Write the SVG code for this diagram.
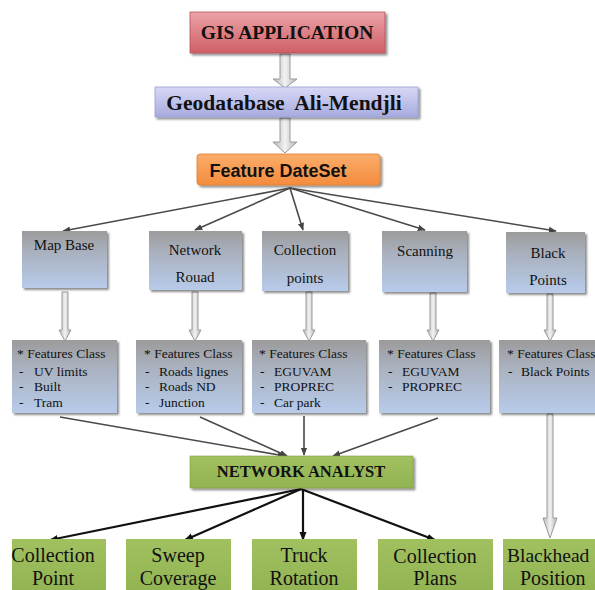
<svg xmlns="http://www.w3.org/2000/svg" width="595" height="590" viewBox="0 0 595 590">
<defs>
<linearGradient id="gRed" x1="0" y1="0" x2="0" y2="1"><stop offset="0" stop-color="#eaa3a7"/><stop offset="1" stop-color="#cf5f67"/></linearGradient>
<linearGradient id="gLav" x1="0" y1="0" x2="0" y2="1"><stop offset="0" stop-color="#d8d8f6"/><stop offset="1" stop-color="#a6abdf"/></linearGradient>
<linearGradient id="gOr" x1="0" y1="0" x2="0" y2="1"><stop offset="0" stop-color="#fbad6c"/><stop offset="1" stop-color="#f48c3c"/></linearGradient>
<linearGradient id="gGB" x1="0" y1="0" x2="0" y2="1"><stop offset="0" stop-color="#9b9b9b"/><stop offset="0.35" stop-color="#a9b0bd"/><stop offset="1" stop-color="#b7cbea"/></linearGradient>
<linearGradient id="gGr" x1="0" y1="0" x2="0" y2="1"><stop offset="0" stop-color="#a1c161"/><stop offset="1" stop-color="#92b352"/></linearGradient>
<linearGradient id="gArr" x1="0" y1="0" x2="1" y2="0"><stop offset="0" stop-color="#b5b5b5"/><stop offset="0.5" stop-color="#f2f2f2"/><stop offset="1" stop-color="#b5b5b5"/></linearGradient>
<filter id="sh" x="-10%" y="-10%" width="125%" height="130%"><feDropShadow dx="2" dy="2" stdDeviation="1.2" flood-color="#000" flood-opacity="0.45"/></filter>
<marker id="ah" viewBox="0 0 10 10" refX="9" refY="5" markerWidth="5" markerHeight="5" orient="auto"><path d="M0,1 L10,5 L0,9 Z" fill="#444"/></marker>
<marker id="ahb" viewBox="0 0 10 10" refX="9" refY="5" markerWidth="4" markerHeight="4" orient="auto"><path d="M0,1 L10,5 L0,9 Z" fill="#111"/></marker>
</defs>
<style>
.serif{font-family:"Liberation Serif","Times New Roman",serif;fill:#111}
.b{font-weight:bold}
.t15{font-size:15px}
.t13{font-size:13.5px}
.t20{font-size:20px}
.ctr{text-anchor:middle}
.blk{fill:url(#gArr);stroke:#9a9a9a;stroke-width:1}
.ln{stroke:#4a4a4a;stroke-width:1.6;fill:none;marker-end:url(#ah)}
.lnb{stroke:#111;stroke-width:2.2;fill:none;marker-end:url(#ahb)}
.box{filter:url(#sh)}
</style>

<g id="connectors">
  <path class="blk" d="M280,54 H290 V79 H297 L285,88 L273,79 H280 Z"/>
  <path class="blk" d="M280,118 H290 V142 H297 L285,153 L273,142 H280 Z"/>
  <line class="ln" x1="290" y1="188" x2="63" y2="231"/>
  <line class="ln" x1="290" y1="188" x2="195" y2="230"/>
  <line class="ln" x1="290" y1="188" x2="303" y2="230"/>
  <line class="ln" x1="290" y1="188" x2="425" y2="230"/>
  <line class="ln" x1="290" y1="188" x2="556" y2="231"/>
  <path class="blk" d="M62,292 H68 V330 H71 L65,341 L59,330 H62 Z"/>
  <path class="blk" d="M192,292 H198 V330 H201 L195,341 L189,330 H192 Z"/>
  <path class="blk" d="M306,292 H312 V330 H315 L309,341 L303,330 H306 Z"/>
  <path class="blk" d="M430,293 H436 V330 H439 L433,341 L427,330 H430 Z"/>
  <path class="blk" d="M547,294 H553 V330 H556 L550,341 L544,330 H547 Z"/>
  <path class="blk" d="M547,414 H553 V518 H557 L550,538 L543,518 H547 Z"/>
  <line class="ln" x1="60" y1="417" x2="285" y2="456"/>
  <line class="ln" x1="200" y1="417" x2="287" y2="456"/>
  <line class="ln" x1="304" y1="416" x2="304" y2="455"/>
  <line class="ln" x1="438" y1="418" x2="333" y2="456"/>
  <line class="lnb" x1="301" y1="489" x2="50" y2="540"/>
  <line class="lnb" x1="301" y1="489" x2="185" y2="540"/>
  <line class="lnb" x1="303" y1="489" x2="303" y2="540"/>
  <line class="lnb" x1="301" y1="489" x2="435" y2="540"/>
</g>

<g id="gis-application">
  <rect class="box" x="190" y="12" width="195" height="41" fill="url(#gRed)" stroke="#b85058" stroke-width="0.8"/>
  <text class="serif b ctr" x="287" y="39" font-size="19.5">GIS APPLICATION</text>
</g>
<g id="geodatabase">
  <rect class="box" x="155" y="87" width="263" height="30" fill="url(#gLav)" stroke="#9a9fd4" stroke-width="0.8"/>
  <text class="serif b ctr" x="284" y="110" font-size="21.5" xml:space="preserve">Geodatabase  Ali-Mendjli</text>
</g>
<g id="feature-dataset">
  <rect class="box" x="197" y="154" width="183" height="31" rx="3" fill="url(#gOr)" stroke="#e07f30" stroke-width="0.8"/>
  <text class="ctr b" x="278" y="177" font-size="18" font-family="Liberation Sans, Arial, sans-serif" fill="#111">Feature DateSet</text>
</g>

<g id="map-base">
  <rect class="box" x="22" y="231" width="85" height="57" fill="url(#gGB)"/>
  <text class="serif t15 ctr" x="64" y="250">Map Base</text>
</g>
<g id="network-rouad">
  <rect class="box" x="149" y="231" width="93" height="59" fill="url(#gGB)"/>
  <text class="serif t15 ctr" x="195" y="255">Network</text>
  <text class="serif t15 ctr" x="195" y="282">Rouad</text>
</g>
<g id="collection-points">
  <rect class="box" x="262" y="231" width="86" height="60" fill="url(#gGB)"/>
  <text class="serif t15 ctr" x="305" y="255">Collection</text>
  <text class="serif t15 ctr" x="305" y="283">points</text>
</g>
<g id="scanning">
  <rect class="box" x="382" y="231" width="85" height="61" fill="url(#gGB)"/>
  <text class="serif t15 ctr" x="425" y="256">Scanning</text>
</g>
<g id="black-points">
  <rect class="box" x="506" y="232" width="79" height="61" fill="url(#gGB)"/>
  <text class="serif t15 ctr" x="548" y="258">Black</text>
  <text class="serif t15 ctr" x="548" y="285">Points</text>
</g>

<g id="fc-map-base">
  <rect class="box" x="12" y="340" width="105" height="73" fill="url(#gGB)"/>
  <text class="serif t13" x="17" y="358">* Features Class</text>
  <text class="serif t13" x="19" y="376">-</text><text class="serif t13" x="34" y="376">UV limits</text>
  <text class="serif t13" x="19" y="391">-</text><text class="serif t13" x="34" y="391">Built</text>
  <text class="serif t13" x="19" y="407">-</text><text class="serif t13" x="34" y="407">Tram</text>
</g>
<g id="fc-network">
  <rect class="box" x="136" y="340" width="106" height="73" fill="url(#gGB)"/>
  <text class="serif t13" x="144" y="358">* Features Class</text>
  <text class="serif t13" x="145" y="376">-</text><text class="serif t13" x="159" y="376">Roads lignes</text>
  <text class="serif t13" x="145" y="391">-</text><text class="serif t13" x="159" y="391">Roads ND</text>
  <text class="serif t13" x="145" y="407">-</text><text class="serif t13" x="159" y="407">Junction</text>
</g>
<g id="fc-collection">
  <rect class="box" x="252" y="340" width="114" height="73" fill="url(#gGB)"/>
  <text class="serif t13" x="259" y="358">* Features Class</text>
  <text class="serif t13" x="260" y="376">-</text><text class="serif t13" x="274" y="376">EGUVAM</text>
  <text class="serif t13" x="260" y="391">-</text><text class="serif t13" x="274" y="391">PROPREC</text>
  <text class="serif t13" x="260" y="407">-</text><text class="serif t13" x="274" y="407">Car park</text>
</g>
<g id="fc-scanning">
  <rect class="box" x="379" y="340" width="111" height="73" fill="url(#gGB)"/>
  <text class="serif t13" x="387" y="358">* Features Class</text>
  <text class="serif t13" x="388" y="376">-</text><text class="serif t13" x="402" y="376">EGUVAM</text>
  <text class="serif t13" x="388" y="391">-</text><text class="serif t13" x="402" y="391">PROPREC</text>
</g>
<g id="fc-black-points">
  <rect class="box" x="499" y="340" width="100" height="73" fill="url(#gGB)"/>
  <text class="serif t13" x="507" y="358">* Features Class</text>
  <text class="serif t13" x="508" y="376">-</text><text class="serif t13" x="521" y="376">Black Points</text>
</g>

<g id="network-analyst">
  <rect class="box" x="190" y="456" width="223" height="32" fill="url(#gGr)" stroke="#7e9c45" stroke-width="0.6"/>
  <text class="serif b ctr" x="301" y="477" font-size="16.5">NETWORK ANALYST</text>
</g>

<g id="collection-point">
  <rect x="12" y="539" width="94" height="55" fill="url(#gGr)"/>
  <text class="serif t20 ctr" x="53" y="562">Collection</text>
  <text class="serif t20 ctr" x="53" y="585">Point</text>
</g>
<g id="sweep-coverage">
  <rect x="126" y="539" width="105" height="55" fill="url(#gGr)"/>
  <text class="serif t20 ctr" x="178" y="562">Sweep</text>
  <text class="serif t20 ctr" x="178" y="585">Coverage</text>
</g>
<g id="truck-rotation">
  <rect x="252" y="539" width="105" height="55" fill="url(#gGr)"/>
  <text class="serif t20 ctr" x="304" y="562">Truck</text>
  <text class="serif t20 ctr" x="304" y="585">Rotation</text>
</g>
<g id="collection-plans">
  <rect x="378" y="539" width="115" height="55" fill="url(#gGr)"/>
  <text class="serif t20 ctr" x="435" y="563">Collection</text>
  <text class="serif t20 ctr" x="435" y="585">Plans</text>
</g>
<g id="blackhead-position">
  <rect x="503" y="539" width="100" height="55" fill="url(#gGr)"/>
  <text class="serif" x="507" y="562" font-size="19.5">Blackhead</text>
  <text class="serif t20" x="520" y="585">Position</text>
</g>
</svg>
